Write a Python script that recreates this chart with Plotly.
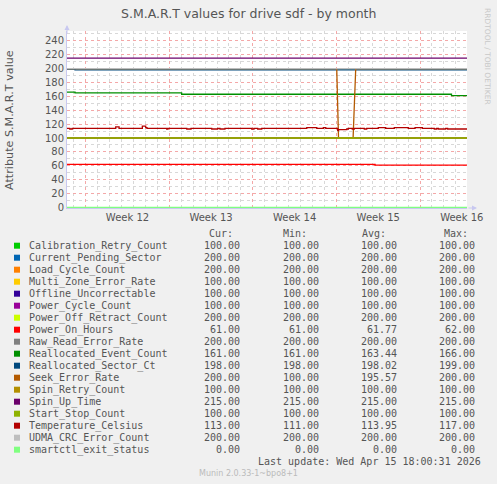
import plotly.graph_objects as go

# series, in munin draw order
names = ["Calibration_Retry_Count", "Current_Pending_Sector", "Load_Cycle_Count",
         "Multi_Zone_Error_Rate", "Offline_Uncorrectable", "Power_Cycle_Count",
         "Power_Off_Retract_Count", "Power_On_Hours", "Raw_Read_Error_Rate",
         "Reallocated_Event_Count", "Reallocated_Sector_Ct", "Seek_Error_Rate",
         "Spin_Retry_Count", "Spin_Up_Time", "Start_Stop_Count", "Temperature_Celsius",
         "UDMA_CRC_Error_Count", "smartctl_exit_status"]
colors = ["#00CC00", "#0066B3", "#FF8000", "#FFCC00", "#330099", "#990099",
          "#CCFF00", "#FF0000", "#808080", "#008F00", "#00487D", "#B35A00",
          "#B38F00", "#6B006B", "#8FB300", "#B30000", "#BEBEBE", "#80FF80"]
cur = [100, 200, 200, 100, 100, 100, 200, 61, 200, 161, 198, 200, 100, 215, 100, 113, 200, 0]
mins = [100, 200, 200, 100, 100, 100, 200, 61, 200, 161, 198, 100, 100, 215, 100, 111, 200, 0]
avgs = [100, 200, 200, 100, 100, 100, 200, 61.77, 200, 163.44, 198.02, 195.57, 100, 215,
        100, 113.95, 200, 0]
maxs = [100, 200, 200, 100, 100, 100, 200, 62, 200, 166, 199, 200, 100, 215, 100, 117, 200, 0]

# time axis in days since start of the graph (33.5 days shown)
span = [0, 33.5]

# series that change (step points: day, value)
poh_days = [0, 25.8, 33.5]
poh_vals = [62, 61, 61]
rec_days = [0, 0.67, 9.6, 32.2, 33.5]
rec_vals = [166, 165, 163, 161, 161]
rsc_days = [0, 0.67, 33.5]
rsc_vals = [199, 198, 198]
seek_days = [0, 22.59, 22.74, 23.96, 24.18, 33.5]
seek_vals = [200, 200, 100, 100, 200, 200]
temp_days = [0, 0.23, 0.44, 4.08, 4.36, 6.31, 6.59, 6.70, 8.35, 8.46, 10.03, 10.39,
             12.12, 12.62, 12.81, 13.23, 15.47, 15.66, 15.97, 16.31, 20.08, 20.92,
             21.47, 21.67, 22.67, 22.74, 23.43, 23.56, 23.89, 24.06, 24.90, 25.10,
             26.07, 26.69, 27.41, 28.58, 29.15, 29.76, 30.76, 30.96, 31.10, 31.72,
             31.88, 33.5]
temp_vals = [114, 113, 114, 116, 114, 117, 115, 114, 113, 114, 113, 114,
             113, 114, 113, 114, 113, 114, 113, 114, 115, 114,
             115, 114, 111, 112, 113, 114, 113, 114, 113, 114,
             115, 114, 115, 114, 115, 114, 113, 114, 113, 114,
             113, 113]

# week boundaries (day offsets) and labels
week_starts = [1.566, 8.566, 15.566, 22.566, 29.566]
week_labels = ["Week 12", "Week 13", "Week 14", "Week 15", "Week 16"]

changing = {
    "Power_On_Hours": (poh_days, poh_vals, "hv"),
    "Reallocated_Event_Count": (rec_days, rec_vals, "hv"),
    "Reallocated_Sector_Ct": (rsc_days, rsc_vals, "hv"),
    "Seek_Error_Rate": (seek_days, seek_vals, "linear"),
    "Temperature_Celsius": (temp_days, temp_vals, "hv"),
}

W, H = 497, 484
L, R, T, B = 67, 467, 31, 208
GREY = "#555555"
MONO = "DejaVu Sans Mono"
SANS = "DejaVu Sans"


def px(x):
    return (x - L) / (R - L)


def py(y):
    return (B - y) / (B - T)


fig = go.Figure()
for i, n in enumerate(names):
    if n in changing:
        xs, ys, shape = changing[n]
    else:
        xs, ys, shape = span, [cur[i], cur[i]], "linear"
    fig.add_trace(go.Scatter(x=xs, y=ys, mode="lines", line_shape=shape,
                             line=dict(color=colors[i], width=1.3),
                             name=n, showlegend=False, hoverinfo="skip"))

# invisible trace on the overlay axis so the week grid is drawn
fig.add_trace(go.Scatter(x=span, y=[0, 0], xaxis="x2", mode="lines",
                         line=dict(width=0), showlegend=False, hoverinfo="skip"))

fig.update_layout(
    width=W, height=H,
    paper_bgcolor="#F0F0F0", plot_bgcolor="#FFFFFF",
    margin=dict(l=L, r=W - R, t=T, b=H - B, autoexpand=False),
    font=dict(family=SANS, size=10, color=GREY),
    xaxis=dict(range=span, tickvals=[w + 3.5 for w in week_starts], ticktext=week_labels,
               showgrid=False, zeroline=False, ticks="", showline=True,
               linecolor="#C8C8F0", linewidth=1, tickfont=dict(size=10, color=GREY)),
    xaxis2=dict(range=span, overlaying="x", tickvals=week_starts, showticklabels=False,
                showgrid=True, gridcolor="#F4A8A8", griddash="dot", gridwidth=1,
                zeroline=False, ticks="",
                minor=dict(tickvals=[w + k for w in week_starts for k in range(-7, 7)],
                           showgrid=True, gridcolor="#D8D8D8", griddash="dot", gridwidth=1)),
    yaxis=dict(range=[-0.7, 254], dtick=20, tick0=0, showgrid=True, gridcolor="#F4A8A8",
               griddash="dot", zeroline=False, ticks="", showline=True,
               linecolor="#C8C8F0", tickfont=dict(size=10, color=GREY),
               minor=dict(dtick=10, showgrid=True, gridcolor="#D8D8D8", griddash="dot")),
)

ann = []
ann.append(dict(text="S.M.A.R.T values for drive sdf - by month", x=px(248), y=py(13.5),
                font=dict(family=SANS, size=12.5, color=GREY)))
ann.append(dict(text="Attribute S.M.A.R.T value", x=px(10), y=py(120), textangle=-90,
                font=dict(family=SANS, size=11.2, color=GREY)))
ann.append(dict(text="RRDTOOL / TOBI OETIKER", x=px(488), y=py(56), textangle=90,
                font=dict(family=SANS, size=7.5, color="#C8C8C8")))

# legend header
for label, right in [("Cur:", 235), ("Min:", 309), ("Avg:", 388), ("Max:", 470)]:
    ann.append(dict(text=label, x=px(right), y=py(233.3), xanchor="right",
                    font=dict(family=MONO, size=10, color=GREY)))

shapes = []
for i, n in enumerate(names):
    row = 245.7 + 12 * i
    shapes.append(dict(type="rect", xref="paper", yref="paper", x0=px(14), x1=px(20),
                       y0=py(row + 3), y1=py(row - 3), fillcolor=colors[i],
                       line=dict(width=0)))
    ann.append(dict(text=n, x=px(26.5), y=py(row), xanchor="left",
                    font=dict(family=MONO, size=10, color=GREY)))
    for vals, right in [(cur, 242), (mins, 321), (avgs, 399), (maxs, 477)]:
        ann.append(dict(text="%.2f" % vals[i], x=px(right), y=py(row), xanchor="right",
                        font=dict(family=MONO, size=10, color=GREY)))

ann.append(dict(text="Last update: Wed Apr 15 18:00:31 2026", x=px(483), y=py(461.7),
                xanchor="right", font=dict(family=MONO, size=10, color=GREY)))
ann.append(dict(text="Munin 2.0.33-1~bpo8+1", x=px(248), y=py(473.3),
                font=dict(family=SANS, size=8, color="#BBBBBB")))

# axis arrows (tail offset given in pixels)
ann.append(dict(x=px(477), y=py(208), ax=-10, ay=0,
                text="", showarrow=True, arrowhead=2, arrowsize=1, arrowwidth=1,
                arrowcolor="#C8C8F0"))
ann.append(dict(x=px(67), y=py(25), ax=0, ay=10,
                text="", showarrow=True, arrowhead=2, arrowsize=1, arrowwidth=1,
                arrowcolor="#C8C8F0"))

for a in ann:
    a.setdefault("xref", "paper")
    a.setdefault("yref", "paper")
    a.setdefault("showarrow", False)
    a.setdefault("xanchor", "center")
    a.setdefault("yanchor", "middle")

fig.update_layout(annotations=ann, shapes=shapes)
fig.write_html("out.html", config={"displayModeBar": False},
               post_script="document.body.style.margin='0';")
